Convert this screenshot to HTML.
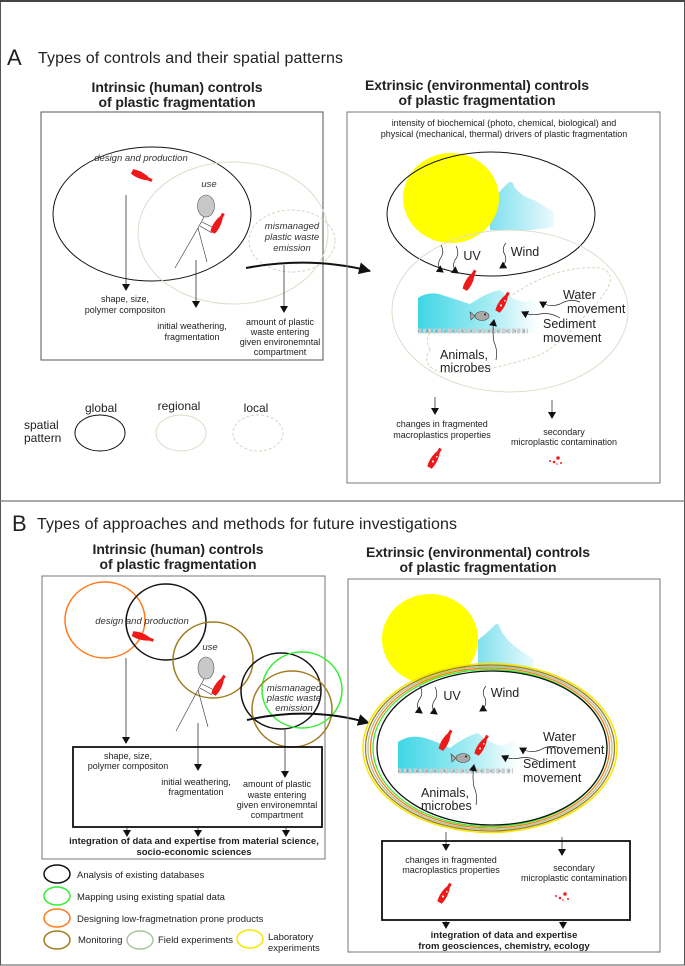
<!DOCTYPE html>
<html><head><meta charset="utf-8"><style>
html,body{margin:0;padding:0;background:#fff}
svg{display:block}
text{font-family:"Liberation Sans",Arial,sans-serif;fill:#222}
.t{font-size:9px}
.i{font-size:9.5px;font-style:italic;fill:#333}
.b{font-size:14px;font-weight:bold}
.m{font-size:12.5px}
.bs{font-size:9.5px;font-weight:bold}
</style></head><body>
<svg width="685" height="966" viewBox="0 0 685 966" xmlns="http://www.w3.org/2000/svg">
<defs>
<marker id="ah" markerWidth="8" markerHeight="8" refX="6" refY="4" orient="auto" markerUnits="userSpaceOnUse"><path d="M0,0 L7,4 L0,8 Z" fill="#111"/></marker>
<marker id="ahb" markerWidth="14" markerHeight="12" refX="11" refY="6" orient="auto" markerUnits="userSpaceOnUse"><path d="M0,0 L12,6 L0,12 Z" fill="#111"/></marker>
<g id="bot"><path d="M-11,-2.5 Q-4,-4.5 4,-2.5 L7,-1.5 L11,-1.5 L11,1.5 L7,1.5 L4,2.5 Q-4,4.5 -11,2.5 Z" fill="#ee1a1a"/></g>
<g id="botw"><path d="M-11,-2.5 Q-4,-4.5 4,-2.5 L7,-1.5 L11,-1.5 L11,1.5 L7,1.5 L4,2.5 Q-4,4.5 -11,2.5 Z" fill="#ee1a1a"/><circle cx="-4" cy="0" r="1" fill="#fff"/><circle cx="2" cy="1" r="0.8" fill="#fff"/></g>
<linearGradient id="wg" x1="0" x2="1" y1="0" y2="0"><stop offset="0" stop-color="#3fd6e6"/><stop offset="0.6" stop-color="#a6ecf3"/><stop offset="1" stop-color="#ffffff"/></linearGradient>
<linearGradient id="cg" x1="0" x2="1"><stop offset="0" stop-color="#7fe0ee"/><stop offset="1" stop-color="#eafafd"/></linearGradient>
<g id="fish"><ellipse cx="0" cy="0" rx="7" ry="4.5" fill="#aaa" stroke="#444" stroke-width="0.6"/><path d="M-7,0 L-12,-4 L-11,4 Z" fill="#aaa" stroke="#444" stroke-width="0.6"/><circle cx="3" cy="-1.5" r="1" fill="#222"/></g>
<g id="peb"><path d="M0,0 h100" stroke="#ccc" stroke-width="5" stroke-dasharray="3 1.5"/><path d="M0,0 h100" stroke="#556" stroke-width="1" stroke-dasharray="1 7"/></g>
</defs>

<!-- outer frame -->
<rect x="0.5" y="1" width="684" height="964" fill="none" stroke="#555" stroke-width="1"/>
<line x1="0" y1="1" x2="685" y2="1" stroke="#444" stroke-width="2"/>
<line x1="0" y1="501" x2="685" y2="501" stroke="#777" stroke-width="1.2"/>

<!-- ===== A ===== -->
<text x="7" y="65" style="font-size:22px">A</text>
<text x="38" y="63" style="font-size:16px" textLength="305">Types of controls and their spatial patterns</text>
<text x="177" y="92" text-anchor="middle" class="b" textLength="171">Intrinsic (human) controls</text>
<text x="177" y="107" text-anchor="middle" class="b" textLength="157">of plastic fragmentation</text>
<text x="477" y="90" text-anchor="middle" class="b" textLength="224">Extrinsic (environmental) controls</text>
<text x="477" y="105" text-anchor="middle" class="b" textLength="157">of plastic fragmentation</text>

<rect x="41" y="112" width="282" height="248" fill="none" stroke="#555" stroke-width="1"/>
<ellipse cx="152" cy="214" rx="99" ry="67" fill="none" stroke="#111" stroke-width="1"/>
<ellipse cx="233" cy="233" rx="95" ry="71" fill="none" stroke="#e0dccb" stroke-width="1"/>
<ellipse cx="292" cy="241" rx="43" ry="31" fill="none" stroke="#d8d4c0" stroke-width="1" stroke-dasharray="3 2"/>
<text x="141" y="161" text-anchor="middle" class="i">design and production</text>
<use href="#bot" transform="translate(142,176) rotate(25)"/>
<text x="209" y="187" text-anchor="middle" class="i">use</text>
<ellipse cx="206" cy="206" rx="8.5" ry="11" fill="#c8c8c8" stroke="#555" stroke-width="0.6"/>
<path d="M204,217 L198,228 L175,268 M198,228 L207,262 M202,222 L214,228 M200,226 L212,233" fill="none" stroke="#333" stroke-width="0.6"/>
<use href="#bot" transform="translate(218,223) rotate(-60)"/>
<text x="292" y="229" text-anchor="middle" class="i">mismanaged</text>
<text x="292" y="240" text-anchor="middle" class="i">plastic waste</text>
<text x="292" y="251" text-anchor="middle" class="i">emission</text>
<line x1="126" y1="195" x2="126" y2="290" stroke="#333" stroke-width="0.8" marker-end="url(#ah)"/>
<line x1="196" y1="260" x2="196" y2="307" stroke="#333" stroke-width="0.8" marker-end="url(#ah)"/>
<line x1="284" y1="265" x2="284" y2="312" stroke="#333" stroke-width="0.8" marker-end="url(#ah)"/>
<text x="125" y="302" text-anchor="middle" class="t">shape, size,</text>
<text x="125" y="313" text-anchor="middle" class="t">polymer compositon</text>
<text x="192" y="329" text-anchor="middle" class="t">initial weathering,</text>
<text x="192" y="340" text-anchor="middle" class="t">fragmentation</text>
<text x="280" y="325" text-anchor="middle" class="t">amount of plastic</text>
<text x="280" y="335" text-anchor="middle" class="t">waste entering</text>
<text x="280" y="345" text-anchor="middle" class="t">given environemntal</text>
<text x="280" y="355" text-anchor="middle" class="t">compartment</text>
<path d="M246,268 Q310,256 370,271" fill="none" stroke="#111" stroke-width="2" marker-end="url(#ahb)"/>

<text x="101" y="412" text-anchor="middle" style="font-size:12px">global</text>
<text x="179" y="410" text-anchor="middle" style="font-size:12px">regional</text>
<text x="256" y="412" text-anchor="middle" style="font-size:12px">local</text>
<text x="24" y="429" style="font-size:12px">spatial</text>
<text x="24" y="442" style="font-size:12px">pattern</text>
<ellipse cx="100" cy="433" rx="25" ry="18" fill="none" stroke="#111" stroke-width="1"/>
<ellipse cx="181" cy="433" rx="25" ry="18" fill="none" stroke="#dedac8" stroke-width="1"/>
<ellipse cx="258" cy="433" rx="25" ry="18" fill="none" stroke="#d8d4c0" stroke-width="1" stroke-dasharray="3 2"/>

<rect x="347" y="112" width="313" height="371" fill="none" stroke="#777" stroke-width="1"/>
<text x="504" y="126" text-anchor="middle" class="t">intensity of biochemical (photo, chemical, biological) and</text>
<text x="504" y="137" text-anchor="middle" class="t">physical (mechanical, thermal) drivers of plastic fragmentation</text>
<path d="M490,206 Q500,190 505,186 Q512,178 514,186 Q520,196 534,200 L554,212 L553,227 Q530,232 490,230 Z" fill="url(#cg)"/>
<ellipse cx="451" cy="198" rx="48" ry="45" fill="#ffff00"/>
<ellipse cx="491" cy="214" rx="104" ry="62" fill="none" stroke="#111" stroke-width="1"/>
<ellipse cx="510" cy="311" rx="118" ry="81" fill="none" stroke="#e0dccb" stroke-width="1"/>
<path d="M430,350 Q420,330 450,320 Q490,310 520,290 Q560,265 600,268 Q625,275 590,310 Q560,345 540,355 Q480,375 440,372 Q420,365 430,350 Z" fill="none" stroke="#d8d4c0" stroke-width="1" stroke-dasharray="3 2"/>
<text x="472" y="260" text-anchor="middle" class="m">UV</text>
<text x="525" y="256" text-anchor="middle" class="m">Wind</text>
<path d="M441,245 q4,8 -1,14 q-4,8 3,13" fill="none" stroke="#222" stroke-width="0.7" marker-end="url(#ah)"/>
<path d="M456,246 q4,8 -1,14 q-4,8 3,13" fill="none" stroke="#222" stroke-width="0.7" marker-end="url(#ah)"/>
<path d="M506,243 q-5,6 -1,12 q3,8 -5,13" fill="none" stroke="#222" stroke-width="0.7" marker-end="url(#ah)"/>
<use href="#bot" transform="translate(470,280) rotate(-62)"/>
<path d="M418,298 Q430,290 445,296 Q458,300 470,304 Q488,292 500,290 Q512,300 525,302 L538,296 L538,333 L418,333 Z" fill="url(#wg)"/>
<use href="#peb" transform="translate(418,331) scale(1.1,1)"/>
<use href="#fish" transform="translate(482,316)"/>
<use href="#botw" transform="translate(503,302) rotate(-60)"/>
<path d="M580,302 q-10,-4 -20,2 q-10,4 -20,-2" fill="none" stroke="#222" stroke-width="0.7" marker-end="url(#ah)"/>
<path d="M560,318 q-10,-6 -20,-4 q-10,2 -18,-2" fill="none" stroke="#222" stroke-width="0.7" marker-end="url(#ah)"/>
<path d="M496,360 q2,-10 -2,-18 q-2,-10 0,-22" fill="none" stroke="#222" stroke-width="0.7" marker-end="url(#ah)"/>
<text x="563" y="299" class="m">Water</text>
<text x="567" y="313" class="m">movement</text>
<text x="543" y="328" class="m">Sediment</text>
<text x="543" y="342" class="m">movement</text>
<text x="440" y="359" class="m">Animals,</text>
<text x="440" y="372" class="m">microbes</text>
<line x1="435" y1="397" x2="435" y2="414" stroke="#333" stroke-width="0.8" marker-end="url(#ah)"/>
<line x1="552" y1="400" x2="552" y2="418" stroke="#333" stroke-width="0.8" marker-end="url(#ah)"/>
<text x="442" y="427" text-anchor="middle" class="t">changes in fragmented</text>
<text x="442" y="438" text-anchor="middle" class="t">macroplastics properties</text>
<text x="564" y="435" text-anchor="middle" class="t">secondary</text>
<text x="564" y="445" text-anchor="middle" class="t">microplastic contamination</text>
<use href="#botw" transform="translate(435,458) rotate(-60)"/>
<g fill="#e22"><circle cx="550" cy="461" r="1"/><circle cx="554" cy="462" r="1.3"/><circle cx="558" cy="458" r="1.8"/><circle cx="561" cy="463" r="1"/><circle cx="557" cy="464" r="0.8"/></g>

<!-- ===== B ===== -->
<text x="12" y="531" style="font-size:22px">B</text>
<text x="37" y="529" style="font-size:16px" textLength="420">Types of approaches and methods for future investigations</text>
<text x="178" y="554" text-anchor="middle" class="b" textLength="171">Intrinsic (human) controls</text>
<text x="178" y="569" text-anchor="middle" class="b" textLength="157">of plastic fragmentation</text>
<text x="478" y="557" text-anchor="middle" class="b" textLength="224">Extrinsic (environmental) controls</text>
<text x="478" y="572" text-anchor="middle" class="b" textLength="157">of plastic fragmentation</text>

<rect x="42" y="576" width="283" height="283" fill="none" stroke="#777" stroke-width="1"/>
<ellipse cx="105" cy="620" rx="40" ry="38" fill="none" stroke="#ff7a1a" stroke-width="1.5"/>
<ellipse cx="166" cy="622" rx="40" ry="38" fill="none" stroke="#111" stroke-width="1.5"/>
<ellipse cx="213" cy="660" rx="40" ry="38" fill="none" stroke="#a07c1e" stroke-width="1.5"/>
<ellipse cx="281" cy="691" rx="40" ry="38" fill="none" stroke="#111" stroke-width="1.5"/>
<ellipse cx="302" cy="690" rx="40" ry="38" fill="none" stroke="#33ee33" stroke-width="1.5"/>
<ellipse cx="292" cy="709" rx="40" ry="38" fill="none" stroke="#a07c1e" stroke-width="1.5"/>
<text x="142" y="624" text-anchor="middle" class="i">design and production</text>
<use href="#bot" transform="translate(143,637) rotate(18)"/>
<text x="210" y="650" text-anchor="middle" class="i">use</text>
<ellipse cx="206" cy="668" rx="8" ry="11" fill="#c8c8c8" stroke="#555" stroke-width="0.6"/>
<path d="M204,679 L198,690 L176,731 M198,690 L208,727 M202,684 L214,690 M200,688 L212,695" fill="none" stroke="#333" stroke-width="0.6"/>
<use href="#bot" transform="translate(219,685) rotate(-60)"/>
<text x="294" y="691" text-anchor="middle" class="i">mismanaged</text>
<text x="294" y="701" text-anchor="middle" class="i">plastic waste</text>
<text x="294" y="711" text-anchor="middle" class="i">emission</text>
<line x1="126" y1="658" x2="126" y2="743" stroke="#333" stroke-width="0.8" marker-end="url(#ah)"/>
<line x1="198" y1="723" x2="198" y2="770" stroke="#333" stroke-width="0.8" marker-end="url(#ah)"/>
<line x1="285" y1="728" x2="285" y2="777" stroke="#333" stroke-width="0.8" marker-end="url(#ah)"/>
<path d="M247,720 Q310,706 369,723" fill="none" stroke="#111" stroke-width="2" marker-end="url(#ahb)"/>
<rect x="73" y="747" width="249" height="80" fill="none" stroke="#111" stroke-width="1.8"/>
<text x="128" y="759" text-anchor="middle" class="t">shape, size,</text>
<text x="128" y="769" text-anchor="middle" class="t">polymer compositon</text>
<text x="196" y="785" text-anchor="middle" class="t">initial weathering,</text>
<text x="196" y="795" text-anchor="middle" class="t">fragmentation</text>
<text x="277" y="787" text-anchor="middle" class="t">amount of plastic</text>
<text x="277" y="798" text-anchor="middle" class="t">waste entering</text>
<text x="277" y="808" text-anchor="middle" class="t">given environemntal</text>
<text x="277" y="818" text-anchor="middle" class="t">compartment</text>
<line x1="127" y1="828" x2="127" y2="836" stroke="#333" stroke-width="0.8" marker-end="url(#ah)"/>
<line x1="198" y1="828" x2="198" y2="836" stroke="#333" stroke-width="0.8" marker-end="url(#ah)"/>
<line x1="286" y1="828" x2="286" y2="836" stroke="#333" stroke-width="0.8" marker-end="url(#ah)"/>
<text x="194" y="844" text-anchor="middle" class="bs">integration of data and expertise from material science,</text>
<text x="194" y="855" text-anchor="middle" class="bs">socio-economic sciences</text>

<ellipse cx="57" cy="874" rx="13" ry="9" fill="none" stroke="#111" stroke-width="1.5"/>
<ellipse cx="57" cy="896" rx="13" ry="9" fill="none" stroke="#33ee33" stroke-width="1.5"/>
<ellipse cx="57" cy="918" rx="13" ry="9" fill="none" stroke="#ff7a1a" stroke-width="1.5"/>
<ellipse cx="57" cy="940" rx="13" ry="9" fill="none" stroke="#a07c1e" stroke-width="1.5"/>
<ellipse cx="140" cy="940" rx="13" ry="9" fill="none" stroke="#a8c4a0" stroke-width="1.5"/>
<ellipse cx="250" cy="939" rx="13" ry="9" fill="none" stroke="#f5e800" stroke-width="1.5"/>
<text x="77" y="878" class="t" style="font-size:9.5px">Analysis of existing databases</text>
<text x="77" y="900" class="t" style="font-size:9.5px">Mapping using existing spatial data</text>
<text x="77" y="922" class="t" style="font-size:9.5px">Designing low-fragmetnation prone products</text>
<text x="78" y="943" class="t" style="font-size:9.5px">Monitoring</text>
<text x="158" y="943" class="t" style="font-size:9.5px">Field experiments</text>
<text x="268" y="940" class="t" style="font-size:9.5px">Laboratory</text>
<text x="268" y="951" class="t" style="font-size:9.5px">experiments</text>

<rect x="348" y="579" width="312" height="373" fill="none" stroke="#777" stroke-width="1"/>
<path d="M478,640 Q488,632 492,628 Q498,620 500,628 Q505,640 520,650 L534,660 L533,672 Q510,676 478,672 Z" fill="url(#cg)"/>
<ellipse cx="430" cy="639" rx="48" ry="45" fill="#ffff00"/>
<ellipse cx="491" cy="748" rx="115" ry="80" fill="#fff" stroke="none"/>
<ellipse cx="490" cy="748" rx="127" ry="84.5" fill="none" stroke="#f5e800" stroke-width="1.5"/>
<ellipse cx="490" cy="748" rx="124.5" ry="83" fill="none" stroke="#a07c1e" stroke-width="1.3"/>
<ellipse cx="490" cy="748" rx="122" ry="81.5" fill="none" stroke="#a8c4a0" stroke-width="1.3"/>
<ellipse cx="490" cy="748" rx="119.5" ry="80" fill="none" stroke="#ff7a1a" stroke-width="1.3"/>
<ellipse cx="490" cy="748" rx="117" ry="78.5" fill="none" stroke="#33ee33" stroke-width="1.3"/>
<ellipse cx="492" cy="748" rx="115" ry="77" fill="none" stroke="#111" stroke-width="1.3"/>
<text x="452" y="700" text-anchor="middle" class="m">UV</text>
<text x="505" y="697" text-anchor="middle" class="m">Wind</text>
<path d="M420,686 q4,8 -1,14 q-4,8 3,13" fill="none" stroke="#222" stroke-width="0.7" marker-end="url(#ah)"/>
<path d="M435,687 q4,8 -1,14 q-4,8 3,13" fill="none" stroke="#222" stroke-width="0.7" marker-end="url(#ah)"/>
<path d="M486,686 q-5,6 -1,12 q3,8 -5,13" fill="none" stroke="#222" stroke-width="0.7" marker-end="url(#ah)"/>
<path d="M398,742 Q410,734 425,738 Q438,742 450,748 Q466,736 478,733 Q490,744 503,746 L518,738 L518,773 L398,773 Z" fill="url(#wg)"/>
<use href="#peb" transform="translate(398,771) scale(1.15,1)"/>
<use href="#bot" transform="translate(446,740) rotate(-62)"/>
<use href="#fish" transform="translate(463,758)"/>
<use href="#botw" transform="translate(482,745) rotate(-60)"/>
<path d="M560,748 q-10,-4 -20,2 q-10,4 -20,-2" fill="none" stroke="#222" stroke-width="0.7" marker-end="url(#ah)"/>
<path d="M540,762 q-10,-6 -20,-4 q-10,2 -18,-2" fill="none" stroke="#222" stroke-width="0.7" marker-end="url(#ah)"/>
<path d="M476,805 q2,-10 -2,-18 q-2,-10 0,-22" fill="none" stroke="#222" stroke-width="0.7" marker-end="url(#ah)"/>
<text x="543" y="741" class="m">Water</text>
<text x="546" y="754" class="m">movement</text>
<text x="523" y="768" class="m">Sediment</text>
<text x="523" y="782" class="m">movement</text>
<text x="421" y="797" class="m">Animals,</text>
<text x="421" y="810" class="m">microbes</text>
<line x1="446" y1="832" x2="446" y2="850" stroke="#333" stroke-width="0.8" marker-end="url(#ah)"/>
<line x1="562" y1="837" x2="562" y2="855" stroke="#333" stroke-width="0.8" marker-end="url(#ah)"/>
<rect x="382" y="841" width="248" height="79" fill="none" stroke="#111" stroke-width="1.8"/>
<text x="451" y="863" text-anchor="middle" class="t">changes in fragmented</text>
<text x="451" y="873" text-anchor="middle" class="t">macroplastics properties</text>
<text x="574" y="871" text-anchor="middle" class="t">secondary</text>
<text x="574" y="881" text-anchor="middle" class="t">microplastic contamination</text>
<use href="#botw" transform="translate(445,893) rotate(-60)"/>
<g fill="#e22"><circle cx="556" cy="896" r="1"/><circle cx="560" cy="898" r="1.3"/><circle cx="565" cy="894" r="1.8"/><circle cx="568" cy="899" r="1"/><circle cx="563" cy="900" r="0.8"/></g>
<line x1="446" y1="920" x2="446" y2="928" stroke="#333" stroke-width="0.8" marker-end="url(#ah)"/>
<line x1="563" y1="920" x2="563" y2="928" stroke="#333" stroke-width="0.8" marker-end="url(#ah)"/>
<text x="504" y="938" text-anchor="middle" class="bs">integration of data and expertise</text>
<text x="504" y="949" text-anchor="middle" class="bs">from geosciences, chemistry, ecology</text>
</svg>
</body></html>
